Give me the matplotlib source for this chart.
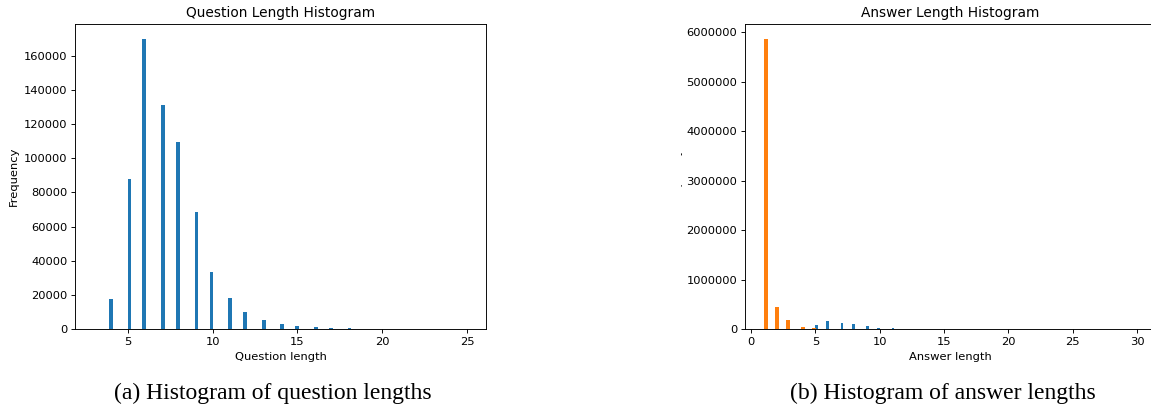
import numpy as np
import matplotlib
matplotlib.use("Agg")
import matplotlib.pyplot as plt
from matplotlib.patches import Rectangle

# question length histogram (counts per length)
q_len = [4, 5, 6, 7, 8, 9, 10, 11, 12, 13, 14, 15, 16, 17, 18, 19, 20, 21, 22, 23, 24, 25]
q_count = [18000, 87600, 170000, 131000, 109400, 68700, 33500, 18100, 10300, 5400,
           3100, 1750, 1100, 700, 700, 300, 200, 120, 80, 50, 30, 20]

# answer length histogram
a_len = list(range(1, 31))
a_count = [5872000, 444000, 188000, 40000, 27000, 15000, 9000, 6000, 4000, 3000,
           2000, 1500, 1000, 800, 600, 500, 400, 300, 250, 200,
           150, 120, 100, 80, 60, 50, 40, 30, 20, 10]

W, H = 1151, 414
dpi = 82.8
fig = plt.figure(figsize=(W / dpi, H / dpi), dpi=dpi)

ax1 = fig.add_axes([75.3 / W, (H - 329.3) / H, 410.4 / W, 305.3 / H])
ax1.hist(q_len, bins=100, range=(3, 25), weights=q_count)
ax1.set_title("Question Length Histogram")
ax1.set_xlabel("Question length")
ax1.set_ylabel("Frequency")

ax2 = fig.add_axes([745.3 / W, (H - 329.3) / H, 410.4 / W, 305.3 / H])
ax2.hist(q_len, bins=100, range=(3, 25), weights=q_count)
ax2.hist(a_len, bins=100, range=(1, 30), weights=a_count)
ax2.set_title("Answer Length Histogram")
ax2.set_xlabel("Answer length")
ax2.set_ylabel("Frequency")
ax2.ticklabel_format(style="plain", axis="y", useOffset=False)

# the right panel was cropped, hiding most of its y label
fig.patches.append(Rectangle((540 / W, 0.1), (680.5 - 540) / W, 0.9,
                             transform=fig.transFigure, facecolor="white",
                             edgecolor="none", zorder=10))

cap = dict(family="Liberation Serif", fontsize=20.6, ha="center", va="center")
fig.text(273 / W, (H - 393) / H, "(a) Histogram of question lengths", **cap)
fig.text(943 / W, (H - 393) / H, "(b) Histogram of answer lengths", **cap)

fig.savefig("out.png", dpi=dpi)
